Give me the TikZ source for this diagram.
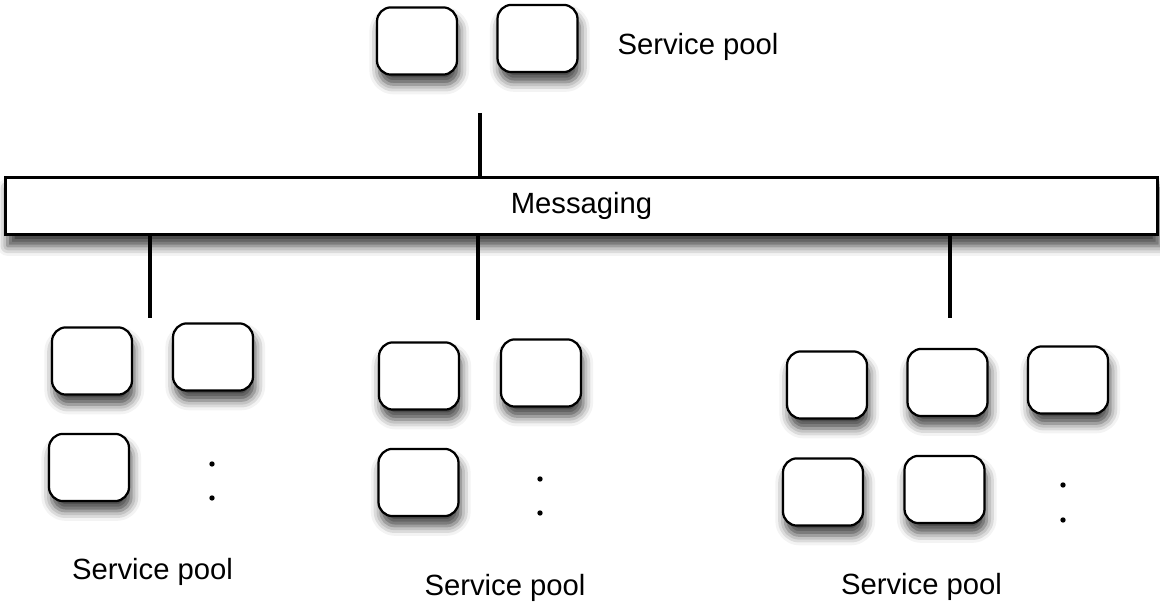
\documentclass[tikz,border=0pt]{standalone}
\usepackage{fontspec}
\setmainfont{Liberation Sans}
\usepackage{tikz}
\usetikzlibrary{shadows.blur}
\tikzstyle{svc}=[rectangle, rounded corners=5pt, minimum width=1.0cm,
  minimum height=0.84cm, inner sep=0pt, draw=black, line width=0.8pt, fill=white,
  blur shadow={shadow xshift=0.8pt, shadow yshift=-3.5pt, shadow blur radius=3.5pt, shadow opacity=75}]
\tikzstyle{msgbar}=[rectangle, minimum width=14.4cm, minimum height=0.72cm,
  inner sep=0pt, draw=black, line width=1pt, fill=white,
  blur shadow={shadow xshift=0.8pt, shadow yshift=-4pt, shadow blur radius=3.5pt, shadow opacity=75}]
\tikzstyle{link}=[line width=1.4pt, color=black]
\tikzstyle{more}=[circle, fill=black, inner sep=0pt, minimum size=1.9pt]
\tikzstyle{pooltext}=[font=\fontsize{10.4pt}{12pt}\selectfont, inner sep=0pt]

\begin{document}
\begin{tikzpicture}[x=0.0125cm, y=-0.0125cm]
  \useasboundingbox (0,0) rectangle (1160,606);
  % messaging bar
  \node[msgbar, pooltext] (msg) at (581.5,206) {Messaging};
  % top pool
  \node[svc] (t1) at (417,41) {};
  \node[svc] (t2) at (537.5,38.5) {};
  \node[pooltext] (tlabel) at (698,47) {Service pool};
  % left pool
  \node[svc] (l1) at (92,361) {};
  \node[svc] (l2) at (213,357) {};
  \node[svc] (l3) at (89,467.5) {};
  \node[more] (ld1) at (212,464) {};
  \node[more] (ld2) at (212,498) {};
  \node[pooltext] (llabel) at (152.5,572) {Service pool};
  % middle pool
  \node[svc] (m1) at (419,376) {};
  \node[svc] (m2) at (541,373) {};
  \node[svc] (m3) at (418.5,482.5) {};
  \node[more] (md1) at (540,479) {};
  \node[more] (md2) at (540,513) {};
  \node[pooltext] (mlabel) at (505,588) {Service pool};
  % right pool
  \node[svc] (r1) at (827,385) {};
  \node[svc] (r2) at (947.5,382.5) {};
  \node[svc] (r3) at (1068,380) {};
  \node[svc] (r4) at (823,492) {};
  \node[svc] (r5) at (944.5,489.5) {};
  \node[more] (rd1) at (1063,485) {};
  \node[more] (rd2) at (1063,520) {};
  \node[pooltext] (rlabel) at (921.5,587) {Service pool};
  % stubs to the bar
  \coordinate (ttop) at (480,113);
  \coordinate (lend) at (150,318);
  \coordinate (mend) at (478,320);
  \coordinate (rend) at (950,318);
  \draw[link] (ttop) -- (ttop |- msg.north);
  \draw[link] (lend |- msg.south) -- (lend);
  \draw[link] (mend |- msg.south) -- (mend);
  \draw[link] (rend |- msg.south) -- (rend);
\end{tikzpicture}
\end{document}
